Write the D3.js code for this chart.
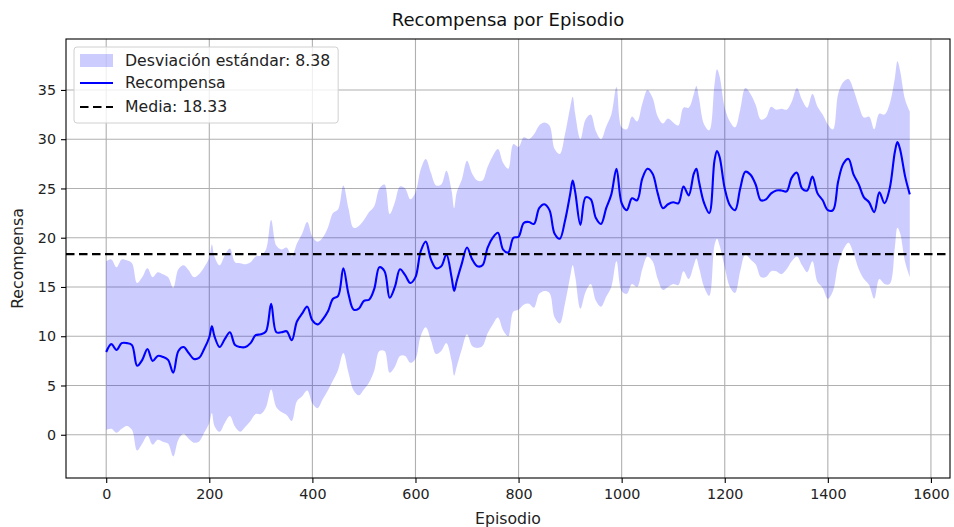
<!DOCTYPE html>
<html>
<head>
<meta charset="utf-8">
<script src="https://cdn.jsdelivr.net/npm/d3@7"></script>
<style>
  body { margin: 0; background: #fff; }
  svg { font-family: "DejaVu Sans", sans-serif; }
</style>
</head>
<body>
<div id="chart"></div>
<script>
const episodes = [
  0, 10, 20, 30, 40, 50, 60, 70, 80, 90, 100, 110, 120, 130, 140, 150, 160, 170, 180, 190,
  200, 205, 210, 220, 230, 240, 250, 260, 270, 280, 290, 300, 310, 320, 330, 340, 350, 360,
  370, 380, 390, 400, 410, 420, 430, 440, 450, 460, 470, 480, 490, 500, 510, 520, 530, 540,
  550, 560, 570, 580, 590, 600, 610, 620, 630, 640, 650, 660, 670, 675, 680, 690, 700, 710,
  720, 730, 740, 750, 760, 770, 780, 790, 800, 810, 820, 830, 840, 850, 860, 870, 880, 890,
  900, 905, 910, 920, 930, 940, 950, 960, 970, 980, 990, 1000, 1010, 1020, 1030, 1040, 1050,
  1060, 1070, 1080, 1090, 1100, 1110, 1120, 1130, 1140, 1145, 1150, 1160, 1170, 1180, 1185,
  1190, 1200, 1210, 1220, 1230, 1240, 1250, 1260, 1270, 1280, 1290, 1300, 1310, 1320, 1330,
  1340, 1350, 1360, 1370, 1380, 1390, 1400, 1410, 1420, 1430, 1440, 1450, 1460, 1470, 1480,
  1490, 1500, 1510, 1520, 1530, 1535, 1540, 1550, 1559
];

const reward = [
  8.4, 9.2, 8.6, 9.3, 9.3, 9.1, 7.0, 7.6, 8.7, 7.5, 8.0, 7.9, 7.6, 6.3, 8.5, 8.9, 8.3, 7.7, 7.8, 8.7,
  9.9, 11.0, 10.0, 8.9, 9.7, 10.4, 9.1, 8.9, 8.9, 9.3, 10.1, 10.2, 10.5, 13.3, 10.4, 10.4, 10.5, 9.6,
  11.5, 12.3, 13.0, 11.6, 11.2, 11.7, 12.5, 13.8, 14.1, 16.9, 14.3, 12.7, 12.8, 13.6, 13.7, 14.8, 17.0, 16.6,
  13.9, 15.0, 16.8, 16.2, 15.4, 16.0, 18.6, 19.6, 17.8, 16.9, 17.1, 18.3, 16.0, 14.6, 15.6, 17.4, 19.0, 17.8,
  17.1, 17.2, 19.0, 20.0, 20.5, 18.8, 18.5, 20.0, 20.1, 21.5, 21.6, 21.4, 23.0, 23.4, 22.8, 20.4, 19.9, 21.7,
  24.4, 25.8, 24.6, 21.3, 24.1, 23.9, 22.0, 21.4, 23.0, 24.4, 27.0, 23.5, 22.8, 24.0, 23.8, 26.0, 27.0,
  26.5, 24.5, 23.0, 23.4, 23.6, 23.5, 25.2, 24.3, 26.5, 27.0, 25.7, 23.5, 22.5, 27.8, 28.8,
  28.2, 25.0, 23.3, 22.8, 25.0, 26.7, 26.4, 25.4, 23.8, 23.9, 24.5, 24.8, 24.8, 24.7, 26.1,
  26.6, 25.0, 24.8, 26.2, 24.5, 23.8, 22.8, 22.8, 25.7, 27.5, 28.0, 26.4, 25.4, 24.1, 23.6,
  22.6, 24.6, 23.5, 25.0, 28.7, 29.7, 29.0, 26.2, 24.4
];

const bandHigh = [
  17.6, 17.8, 17.0, 17.8, 17.7, 17.4, 15.4, 16.0, 16.9, 16.0, 16.5, 16.3, 16.0, 14.9, 16.8, 17.2, 16.7, 16.0, 16.3, 17.0,
  18.0, 19.3, 18.1, 17.2, 18.2, 18.9, 17.5, 17.4, 17.3, 17.5, 18.1, 18.2, 18.8, 21.8, 19.2, 18.8, 19.0, 18.1,
  19.4, 20.4, 21.6, 20.1, 19.6, 20.0, 21.0, 22.5, 22.9, 25.3, 23.0, 21.0, 21.2, 21.8, 22.6, 23.2, 25.0, 25.4,
  22.4, 23.6, 25.2, 25.0, 23.9, 24.6, 26.9, 28.0, 26.6, 25.3, 25.4, 26.8, 24.8, 23.0, 24.6, 25.9, 27.8, 26.5,
  25.8, 25.8, 27.2, 28.3, 29.0, 27.6, 27.0, 29.5, 29.2, 30.2, 30.0, 30.5, 31.4, 31.7, 31.4, 29.0, 28.5, 30.5,
  33.2, 34.3, 32.5, 30.0, 32.0, 32.5, 30.8, 30.0, 31.3, 32.5, 35.3, 31.2, 31.0, 32.3, 31.8, 33.6, 35.0,
  34.2, 32.3, 31.6, 32.1, 31.7, 31.4, 33.2, 33.2, 34.6, 35.4, 34.2, 31.5, 30.9, 35.5, 37.1,
  36.4, 33.2, 31.8, 31.2, 33.0, 35.2, 34.6, 33.5, 32.0, 32.2, 33.3, 33.0, 33.1, 33.0, 33.8,
  35.2, 34.0, 33.2, 34.6, 33.3, 32.5, 31.5, 31.0, 34.6, 35.8, 36.1, 35.0, 33.4, 32.2, 32.3,
  31.0, 32.6, 32.5, 33.6, 36.2, 37.9, 37.0, 34.0, 32.8
];

const bandLow = [
  0.5, 0.6, 0.2, 0.6, 0.9, 0.5, -1.6, -0.9, -0.1, -1.0, -0.5, -0.7, -0.9, -2.2, -0.5, 0.1, -0.4, -0.8, -0.7, 0.2,
  1.2, 2.2, 0.9, 0.3, 1.2, 1.9, 0.8, 0.3, 0.8, 1.4, 2.1, 2.1, 2.8, 4.6, 2.8, 2.3, 2.0, 1.4,
  3.4, 3.9, 4.5, 3.2, 2.7, 3.6, 4.5, 5.5, 6.6, 8.3, 6.3, 4.5, 4.0, 4.6, 5.3, 6.5, 8.5, 8.5,
  6.3, 6.9, 8.0, 8.0, 7.3, 7.7, 10.0, 10.9, 9.6, 8.2, 8.5, 9.3, 7.5, 6.0, 6.9, 8.7, 10.2, 9.0,
  8.8, 9.0, 10.3, 11.2, 11.9, 10.6, 10.0, 12.5, 12.7, 13.2, 13.3, 12.9, 14.3, 14.6, 14.4, 11.9, 11.3, 13.3,
  16.0, 17.2, 16.0, 12.8, 14.5, 15.3, 13.6, 13.0, 14.0, 15.0, 17.6, 14.6, 14.3, 15.3, 15.0, 16.8, 18.1,
  17.6, 15.8, 14.7, 15.0, 15.3, 15.2, 16.6, 15.8, 17.2, 17.9, 17.0, 15.0, 14.1, 19.2, 19.9,
  19.2, 17.0, 15.0, 14.4, 16.6, 18.3, 17.8, 17.3, 16.0, 16.0, 16.6, 16.6, 16.3, 16.8, 17.6,
  18.1, 17.2, 16.5, 17.6, 15.5, 14.9, 13.8, 14.6, 17.3, 18.8, 19.5, 18.4, 16.8, 15.8, 15.2,
  13.8, 15.8, 15.3, 15.3, 19.0, 21.0, 20.5, 17.5, 16.0
];

const meanReward = 18.33;
const stdReward = 8.38;
const xTicks = [0, 200, 400, 600, 800, 1000, 1200, 1400, 1600];
const yTicks = [0, 5, 10, 15, 20, 25, 30, 35];

const width = 954;
const height = 527;
const margin = { top: 39, right: 4, bottom: 49, left: 66 };
const innerW = width - margin.left - margin.right;
const innerH = height - margin.top - margin.bottom;
const tickFont = 14.3;
const labelFont = 15.7;

const svg = d3
  .select("#chart")
  .append("svg")
  .attr("width", width)
  .attr("height", height);

const g = svg
  .append("g")
  .attr("transform", "translate(" + margin.left + "," + margin.top + ")");

const x = d3.scaleLinear().domain([-78, 1637]).range([0, innerW]);
const y = d3.scaleLinear().domain([-4.39, 40.17]).range([innerH, 0]);

const rows = episodes.map(function (ep, i) {
  return { ep: ep, r: reward[i], lo: bandLow[i], hi: bandHigh[i] };
});

// grid
g.append("g")
  .selectAll("line")
  .data(xTicks)
  .enter()
  .append("line")
  .attr("x1", d => x(d))
  .attr("x2", d => x(d))
  .attr("y1", 0)
  .attr("y2", innerH)
  .attr("stroke", "#b0b0b0")
  .attr("stroke-width", 1.1);

g.append("g")
  .selectAll("line")
  .data(yTicks)
  .enter()
  .append("line")
  .attr("x1", 0)
  .attr("x2", innerW)
  .attr("y1", d => y(d))
  .attr("y2", d => y(d))
  .attr("stroke", "#b0b0b0")
  .attr("stroke-width", 1.1);

// std band
const area = d3
  .area()
  .x(d => x(d.ep))
  .y0(d => y(d.lo))
  .y1(d => y(d.hi))
  .curve(d3.curveCatmullRom.alpha(0.5));

g.append("path")
  .datum(rows)
  .attr("d", area)
  .attr("fill", "blue")
  .attr("fill-opacity", 0.2);

// reward line
const line = d3
  .line()
  .x(d => x(d.ep))
  .y(d => y(d.r))
  .curve(d3.curveCatmullRom.alpha(0.5));

g.append("path")
  .datum(rows)
  .attr("d", line)
  .attr("fill", "none")
  .attr("stroke", "blue")
  .attr("stroke-width", 2.1)
  .attr("stroke-linejoin", "round");

// mean line
g.append("line")
  .attr("x1", 0)
  .attr("x2", innerW)
  .attr("y1", y(meanReward))
  .attr("y2", y(meanReward))
  .attr("stroke", "black")
  .attr("stroke-width", 2.1)
  .attr("stroke-dasharray", "8.5,4.5");

// axes
const xAxis = d3
  .axisBottom(x)
  .tickValues(xTicks)
  .tickFormat(d3.format("d"))
  .tickSize(5)
  .tickPadding(6)
  .tickSizeOuter(0);
const yAxis = d3
  .axisLeft(y)
  .tickValues(yTicks)
  .tickFormat(d3.format("d"))
  .tickSize(5)
  .tickPadding(5)
  .tickSizeOuter(0);

g.append("g")
  .attr("transform", "translate(0," + innerH + ")")
  .call(xAxis);

g.append("g").call(yAxis);

g.selectAll(".domain").remove();
g.selectAll(".tick line").attr("stroke", "#000").attr("stroke-width", 1.1);
g.selectAll(".tick text")
  .attr("fill", "#222")
  .style("font-size", tickFont + "px")
  .style("font-family", "DejaVu Sans, sans-serif");

// frame
g.append("rect")
  .attr("x", 0)
  .attr("y", 0)
  .attr("width", innerW)
  .attr("height", innerH)
  .attr("fill", "none")
  .attr("stroke", "#000")
  .attr("stroke-width", 1.1);

// labels
svg
  .append("text")
  .attr("x", margin.left + innerW / 2)
  .attr("y", 26)
  .attr("text-anchor", "middle")
  .attr("fill", "#111")
  .style("font-size", "18px")
  .text("Recompensa por Episodio");

svg
  .append("text")
  .attr("x", margin.left + innerW / 2)
  .attr("y", 524)
  .attr("text-anchor", "middle")
  .attr("fill", "#222")
  .style("font-size", labelFont + "px")
  .text("Episodio");

svg
  .append("text")
  .attr("transform", "translate(23," + (margin.top + innerH / 2) + ") rotate(-90)")
  .attr("text-anchor", "middle")
  .attr("fill", "#222")
  .style("font-size", labelFont + "px")
  .text("Recompensa");

// legend
const legend = svg.append("g").attr("transform", "translate(74,47)");

const legendBox = legend
  .append("rect")
  .attr("x", 0)
  .attr("y", 0)
  .attr("height", 76)
  .attr("rx", 3)
  .attr("fill", "#fff")
  .attr("fill-opacity", 0.8)
  .attr("stroke", "#d0d0d0")
  .attr("stroke-width", 1);

legend
  .append("rect")
  .attr("x", 6)
  .attr("y", 7)
  .attr("width", 33)
  .attr("height", 13)
  .attr("fill", "blue")
  .attr("fill-opacity", 0.2);

legend
  .append("line")
  .attr("x1", 6)
  .attr("x2", 39)
  .attr("y1", 36)
  .attr("y2", 36)
  .attr("stroke", "blue")
  .attr("stroke-width", 2.1);

legend
  .append("line")
  .attr("x1", 6)
  .attr("x2", 39)
  .attr("y1", 60)
  .attr("y2", 60)
  .attr("stroke", "black")
  .attr("stroke-width", 2.1)
  .attr("stroke-dasharray", "8.5,4.5");

const labels = [
  "Desviación estándar: " + stdReward.toFixed(2),
  "Recompensa",
  "Media: " + meanReward.toFixed(2)
];
const labelY = [13.5, 36, 60];

const legendText = legend
  .selectAll(".legend-label")
  .data(labels)
  .enter()
  .append("text")
  .attr("class", "legend-label")
  .attr("x", 51)
  .attr("y", (d, i) => labelY[i])
  .attr("dy", "0.35em")
  .attr("fill", "#222")
  .style("font-size", labelFont + "px")
  .text(d => d);

let maxW = 0;
legendText.each(function () {
  maxW = Math.max(maxW, this.getComputedTextLength());
});
legendBox.attr("width", 51 + maxW + 8);
</script>
</body>
</html>
